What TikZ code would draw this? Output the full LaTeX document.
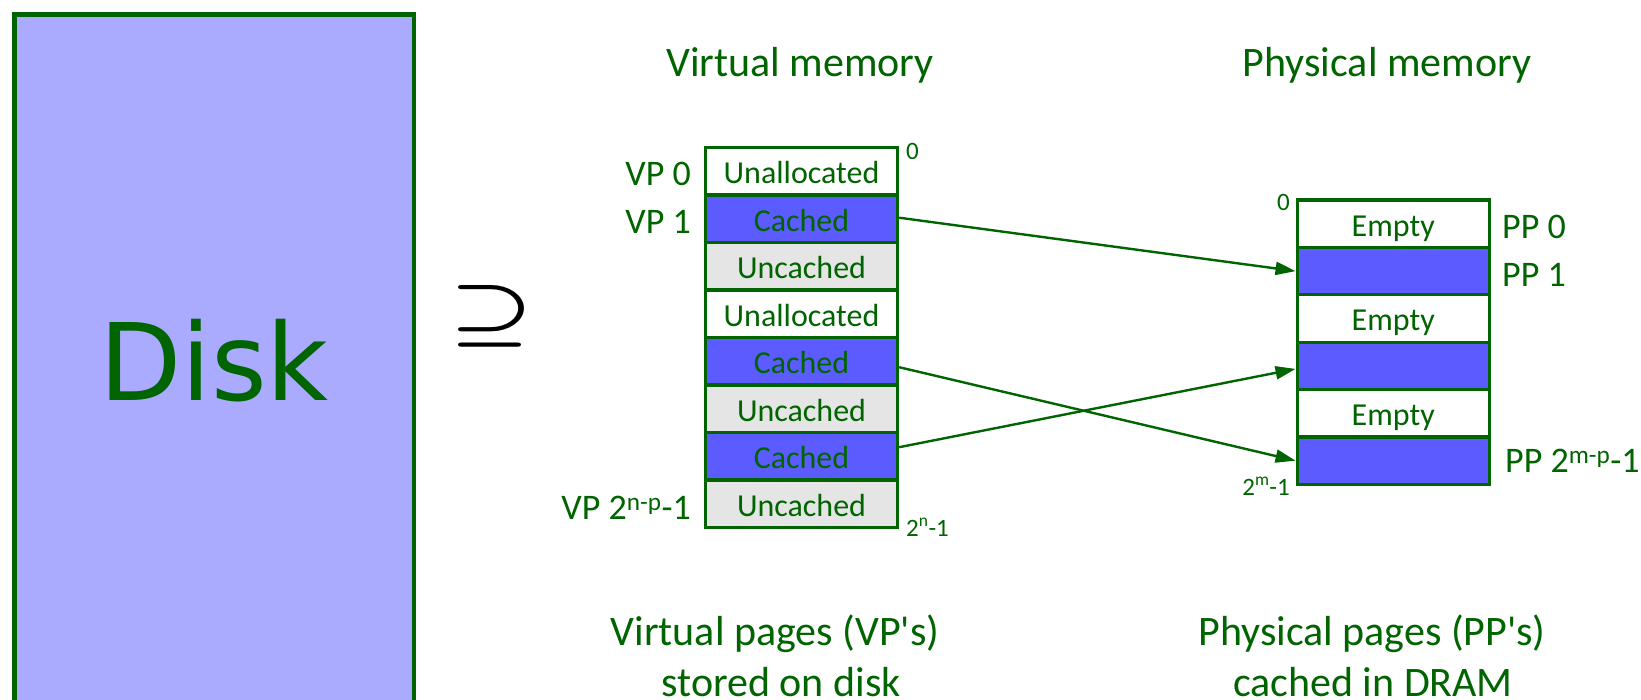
\documentclass[tikz,border=0pt]{standalone}
\usepackage{fontspec}
\setmainfont{Carlito}[Ligatures=TeXOff]
\newfontfamily\dejavu{DejaVu Sans}
\usetikzlibrary{arrows.meta,calc}
\definecolor{tg}{HTML}{006400}
\definecolor{cblue}{HTML}{5B5BFF}
\definecolor{cgray}{HTML}{E5E5E5}
\definecolor{diskfill}{HTML}{AAAAFF}
\tikzset{
  rowbox/.style={draw=tg, line width=3.3pt, minimum width=192pt, minimum height=47.5pt, inner sep=0pt, text=tg, font=\fontsize{32}{39}\selectfont, text height=24.6pt, text depth=0pt},
  whiterow/.style={rowbox, fill=white},
  bluerow/.style={rowbox, fill=cblue},
  grayrow/.style={rowbox, fill=cgray},
  lbl/.style={text=tg, inner sep=0pt, font=\fontsize{36}{44}\selectfont},
  smalllbl/.style={text=tg, inner sep=0pt, font=\fontsize{25}{30}\selectfont},
  headtxt/.style={text=tg, inner sep=0pt, font=\fontsize{42}{51}\selectfont, anchor=base},
  link/.style={draw=tg, line width=2.4pt, -{Triangle[length=20pt,width=13pt]}}
}
\begin{document}
\begin{tikzpicture}[x=1pt,y=-1pt]
\useasboundingbox (0,0) rectangle (1641,699);
% Disk
\node[draw=tg, fill=diskfill, line width=4.4pt, minimum width=399.5pt, minimum height=700pt, inner sep=0pt, anchor=north west] (disk) at (12.3,12.3) {};
\node[text=tg, inner sep=0pt, font=\dejavu\fontsize{107}{109}\selectfont] (disktxt) at (214,361) {Disk};
% superset
\node[inner sep=0pt] (sup) at (492,316) {\resizebox{84pt}{48pt}{\boldmath$\supseteq$}};
% headings
\node[headtxt] (vmh) at (800,76.7) {Virtual memory};
\node[headtxt] (pmh) at (1387,76.7) {Physical memory};
\node[headtxt] (vmb1) at (775,645) {Virtual pages (VP's)};
\node[headtxt] (vmb2) at (781,696.5) {stored on disk};
\node[headtxt] (pmb1) at (1372,645) {Physical pages (PP's)};
\node[headtxt] (pmb2) at (1373,696.5) {cached in DRAM};
% virtual memory table
\node[whiterow] (v0) at (801.5,171.2) {Unallocated};
\node[bluerow] (v1) at (801.5,218.7) {Cached};
\node[grayrow] (v2) at (801.5,266.2) {Uncached};
\node[whiterow] (v3) at (801.5,313.7) {Unallocated};
\node[bluerow] (v4) at (801.5,361.2) {Cached};
\node[grayrow] (v5) at (801.5,408.7) {Uncached};
\node[bluerow] (v6) at (801.5,456.2) {Cached};
\node[grayrow] (v7) at (801.5,503.7) {Uncached};
\node[lbl, anchor=base east] (vp0) at (691,185) {VP 0};
\node[lbl, anchor=base east] (vp1) at (691,233.3) {VP 1};
\node[lbl, anchor=base east] (vpn) at (691,519.3) {VP 2\textsuperscript{n-p}-1};
\node[smalllbl, anchor=base west] (vz) at (906,159.3) {0};
\node[smalllbl, anchor=base west] (vn) at (906,536) {2\textsuperscript{n}-1};
% physical memory table
\node[whiterow] (p0) at (1393.2,223.7) {Empty};
\node[bluerow] (p1) at (1393.2,271.1) {};
\node[whiterow] (p2) at (1393.2,318.5) {Empty};
\node[bluerow] (p3) at (1393.2,365.9) {};
\node[whiterow] (p4) at (1393.2,413.3) {Empty};
\node[bluerow] (p5) at (1393.2,460.7) {};
\node[lbl, anchor=base west] (pp0) at (1502,238.3) {PP 0};
\node[lbl, anchor=base west] (pp1) at (1502,286.7) {PP 1};
\node[lbl, anchor=base west] (ppn) at (1505,472.7) {PP 2\textsuperscript{m-p}-1};
\node[smalllbl, anchor=base east] (pz) at (1290,210.7) {0};
\node[smalllbl, anchor=base east] (pm) at (1290,495) {2\textsuperscript{m}-1};
% connectors
\draw[link] ([yshift=1pt]v1.east) -- (p1.west);
\draw[link] ([yshift=-6pt]v4.east) -- (p5.west);
\draw[link] ([yshift=9pt]v6.east) -- ([yshift=-3pt]p3.west);
\end{tikzpicture}
\end{document}
